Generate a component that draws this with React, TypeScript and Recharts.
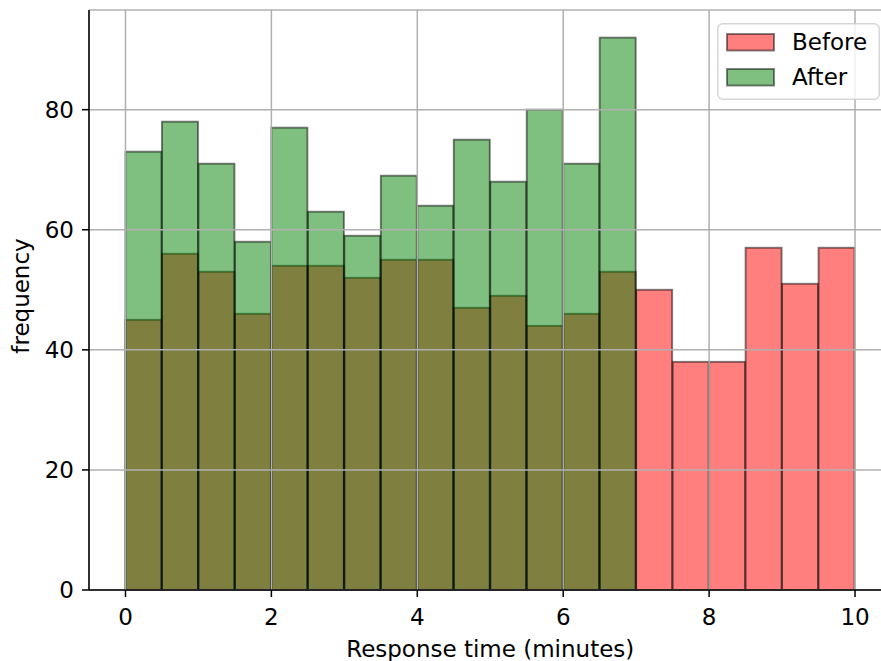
import React from 'react';
import { ComposedChart, Bar, XAxis, YAxis, CartesianGrid, Legend, Label } from 'recharts';

// histogram bins, width 0.5 min
const binEdges = [0, 0.5, 1, 1.5, 2, 2.5, 3, 3.5, 4, 4.5, 5, 5.5, 6, 6.5, 7, 7.5, 8, 8.5, 9, 9.5, 10];
const beforeCounts = [45, 56, 53, 46, 54, 54, 52, 55, 55, 47, 49, 44, 46, 53, 50, 38, 38, 57, 51, 57];
const afterCounts = [73, 78, 71, 58, 77, 63, 59, 69, 64, 75, 68, 80, 71, 92];
const xTicks = [0, 2, 4, 6, 8, 10];
const yTicks = [0, 20, 40, 60, 80];
const seriesNames = ['Before', 'After'];
const seriesColors = ['#ff0000', '#008000'];

const data = beforeCounts.map((before, i) => ({
  mid: (binEdges[i] + binEdges[i + 1]) / 2,
  before,
  after: i < afterCounts.length ? afterCounts[i] : null,
}));

const FONT = 'DejaVu Sans, sans-serif';
const FS = 23;

const HistRect = (props: any) => {
  const { x, y, width, height, fill } = props;
  if (!height || height <= 0) return null;
  return (
    <rect
      x={x}
      y={y}
      width={width}
      height={height}
      fill={fill}
      fillOpacity={0.5}
      stroke="#000"
      strokeOpacity={0.5}
      strokeWidth={1.9}
    />
  );
};

const XTitle = (props: any) => {
  const vb = props.viewBox;
  return (
    <text x={vb.x + vb.width / 2} y={657} textAnchor="middle" fontFamily={FONT} fontSize={FS} fill="#000">
      Response time (minutes)
    </text>
  );
};

const YTitle = (props: any) => {
  const vb = props.viewBox;
  const cx = 28.5;
  const cy = 296;
  return (
    <text
      x={cx}
      y={cy}
      transform={`rotate(-90, ${cx}, ${cy})`}
      textAnchor="middle"
      fontFamily={FONT}
      fontSize={FS}
      fill="#000"
    >
      frequency
    </text>
  );
};

const LegendBox = () => (
  <svg width={163} height={77} style={{ display: 'block' }}>
    <rect x={0.75} y={0.75} width={161.5} height={75.5} rx={5} fill="#fff" fillOpacity={0.8} stroke="#cccccc" strokeOpacity={0.8} strokeWidth={1.5} />
    {seriesNames.map((name, i) => (
      <g key={name}>
        <rect
          x={10}
          y={11 + i * 35}
          width={47}
          height={16.5}
          fill={seriesColors[i]}
          fillOpacity={0.5}
          stroke="#000"
          strokeOpacity={0.5}
          strokeWidth={1.9}
        />
        <text x={75} y={26.5 + i * 35} fontFamily={FONT} fontSize={FS} fill="#000">
          {name}
        </text>
      </g>
    ))}
  </svg>
);

const tickStyle = { fill: '#000', fontSize: FS, fontFamily: FONT };
const lineStyle = { stroke: '#000', strokeWidth: 1.5 };

export default function App() {
  return (
    <div style={{ position: 'absolute', left: 0, top: 0, width: 881, height: 661, overflow: 'hidden', background: '#fff' }}>
      <ComposedChart
        width={900}
        height={661}
        data={data}
        margin={{ top: 10, right: 8.5, bottom: 0, left: 0 }}
        barCategoryGap={0}
        barGap={0}
      >
        <XAxis
          xAxisId="main"
          dataKey="mid"
          type="number"
          domain={[-0.5, 10.5]}
          ticks={xTicks}
          interval={0}
          height={71}
          tickSize={7}
          tickMargin={12}
          tick={tickStyle}
          axisLine={lineStyle}
          tickLine={lineStyle}
        >
          <Label content={XTitle} />
        </XAxis>
        <XAxis
          xAxisId="top"
          orientation="top"
          dataKey="mid"
          type="number"
          domain={[-0.5, 10.5]}
          height={0}
          tick={false}
          tickLine={false}
          axisLine={lineStyle}
        />
        <YAxis
          type="number"
          domain={[0, 96.6]}
          ticks={yTicks}
          interval={0}
          width={89}
          tickSize={7}
          tickMargin={8}
          tick={tickStyle}
          axisLine={lineStyle}
          tickLine={lineStyle}
        >
          <Label content={YTitle} />
        </YAxis>
        <Bar xAxisId="main" dataKey="before" name={seriesNames[0]} fill={seriesColors[0]} shape={HistRect} isAnimationActive={false} />
        <Bar xAxisId="top" dataKey="after" name={seriesNames[1]} fill={seriesColors[1]} shape={HistRect} isAnimationActive={false} />
        <CartesianGrid xAxisId="main" stroke="#b0b0b0" strokeWidth={1.5} zIndex={400} />
        <Legend
          layout="horizontal"
          verticalAlign="middle"
          align="center"
          content={LegendBox}
          wrapperStyle={{ left: 717, top: 23, width: 163, height: 77, right: 'auto', bottom: 'auto' }}
        />
      </ComposedChart>
    </div>
  );
}
